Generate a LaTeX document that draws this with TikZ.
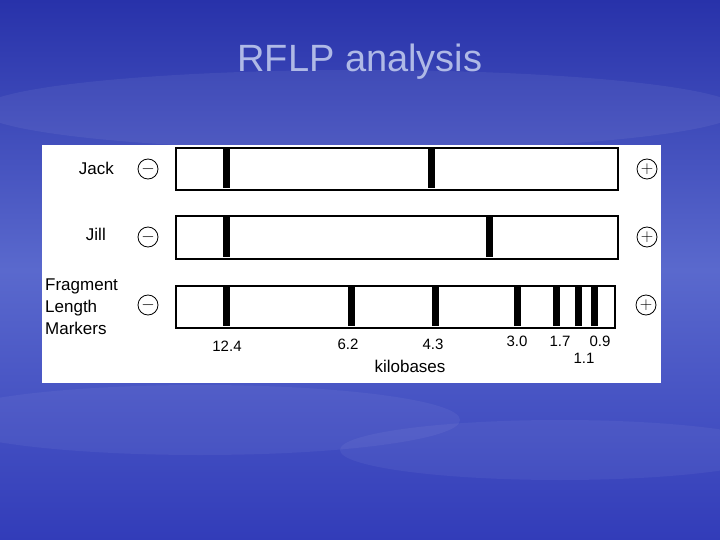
\documentclass[tikz,border=0pt]{standalone}
\usepackage{fontspec}
\setmainfont{Liberation Sans}
\begin{document}
\begin{tikzpicture}[x=1pt,y=-1pt,
  lane/.style={draw=black,line width=1.6pt,fill=white},
  band/.style={fill=black},
  pole/.style={circle,draw=black,line width=0.8pt,minimum size=20pt,inner sep=0pt,font=\fontsize{18}{18}\selectfont},
  lbl/.style={font=\fontsize{17}{22}\selectfont,inner sep=0pt},
  num/.style={font=\fontsize{15}{15}\selectfont,inner sep=0pt}]
\useasboundingbox (0,0) rectangle (720,540);
\shade[top color={rgb,255:red,40;green,50;blue,170},bottom color={rgb,255:red,50;green,60;blue,185},middle color={rgb,255:red,90;green,105;blue,205}] (0,0) rectangle (720,540);
\fill[white,opacity=0.06] (360,110) ellipse (380 and 40);
\fill[white,opacity=0.05] (200,420) ellipse (260 and 35);
\fill[white,opacity=0.05] (560,450) ellipse (220 and 30);
\node[font=\fontsize{38}{38}\selectfont,text={rgb,255:red,175;green,185;blue,230}] (title) at (360,62) {RFLP analysis};
\node[fill=white,draw=none,minimum width=619pt,minimum height=238pt,anchor=north west,inner sep=0pt] (panel) at (42,145) {};
\node[lane,minimum width=442pt,minimum height=42pt,anchor=north west,inner sep=0pt] (jack) at (175,147) {};
\node[lane,minimum width=442pt,minimum height=43pt,anchor=north west,inner sep=0pt] (jill) at (175,215) {};
\node[lane,minimum width=439pt,minimum height=42pt,anchor=north west,inner sep=0pt] (mark) at (175,285) {};
\foreach \x in {226,431} \fill[band] (\x-3.5,148) rectangle (\x+3.5,188);
\foreach \x in {226,489} \fill[band] (\x-3.5,216) rectangle (\x+3.5,257);
\foreach \x in {226,351,435,517,556,578,594} \fill[band] (\x-3.5,286) rectangle (\x+3.5,326);
\node[pole] (m1) at (148,169) {$-$};
\node[pole] (m2) at (148,237) {$-$};
\node[pole] (m3) at (148,305) {$-$};
\node[pole] (p1) at (647,169) {$+$};
\node[pole] (p2) at (647,237) {$+$};
\node[pole] (p3) at (646,305) {$+$};
\node[lbl,anchor=east] (ljack) at (114,168) {Jack};
\node[lbl,anchor=east] (ljill) at (106,234) {Jill};
\node[lbl,anchor=west,align=left] (lmark) at (45,307) {Fragment\\Length\\Markers};
\node[num] (n1) at (227,346) {12.4};
\node[num] (n2) at (348,344) {6.2};
\node[num] (n3) at (433,344) {4.3};
\node[num] (n4) at (517,341) {3.0};
\node[num] (n5) at (560,341) {1.7};
\node[num] (n6) at (600,341) {0.9};
\node[num] (n7) at (584,358) {1.1};
\node[lbl] (kb) at (410,366) {kilobases};
\end{tikzpicture}
\end{document}
